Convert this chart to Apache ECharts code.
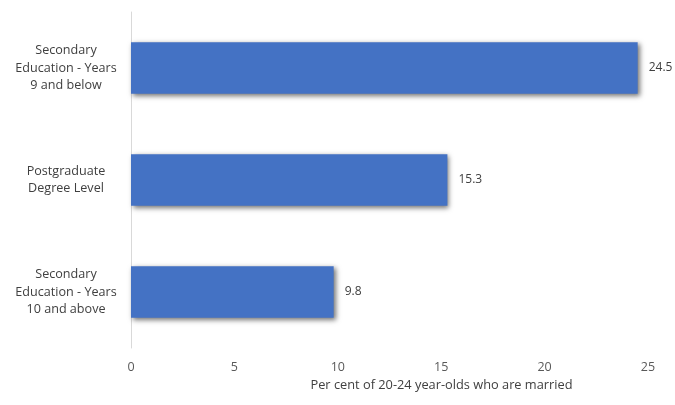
<!DOCTYPE html>
<html>
<head>
<meta charset="utf-8">
<script src="https://cdn.jsdelivr.net/npm/echarts@6/dist/echarts.min.js"></script>
<style>html,body{margin:0;padding:0;background:#fff}#c{width:675px;height:405px}</style>
</head>
<body>
<div id="c"></div>
<script>
const categories = [
  "Secondary\nEducation - Years\n9 and below",
  "Postgraduate\nDegree Level",
  "Secondary\nEducation - Years\n10 and above"
];
const values = [24.5, 15.3, 9.8];
const xTicks = [0, 5, 10, 15, 20, 25];
const axisTitle = "Per cent of 20-24 year-olds who are married";

const chart = echarts.init(document.getElementById('c'), null, {renderer: 'canvas'});
chart.setOption({
  animation: false,
  backgroundColor: '#ffffff',
  textStyle: {fontFamily: 'Open Sans'},
  grid: {left: 131, right: 27, top: 12, bottom: 57, containLabel: false},
  xAxis: {
    type: 'value',
    min: xTicks[0],
    max: xTicks[xTicks.length - 1],
    interval: 5,
    axisLine: {show: false},
    axisTick: {show: false},
    splitLine: {show: false},
    axisLabel: {color: '#595959', fontSize: 12.5, margin: 13},
    name: axisTitle,
    nameLocation: 'middle',
    nameGap: 30,
    nameTextStyle: {color: '#404040', fontSize: 12.8, padding: [0, 0, 0, 104]}
  },
  yAxis: {
    type: 'category',
    data: categories,
    inverse: true,
    axisLine: {show: true, lineStyle: {color: '#d9d9d9', width: 1}},
    axisTick: {show: false},
    axisLabel: {color: '#404040', fontSize: 12.6, lineHeight: 17.5, align: 'center', margin: 65}
  },
  series: [{
    type: 'bar',
    data: values,
    barCategoryGap: '54%',
    itemStyle: {
      color: '#4472C4',
      shadowColor: 'rgba(0,0,0,0.55)',
      shadowBlur: 5,
      shadowOffsetX: 2,
      shadowOffsetY: 2
    },
    label: {show: true, position: 'right', distance: 11, color: '#404040', fontSize: 12}
  }]
});
</script>
</body>
</html>
